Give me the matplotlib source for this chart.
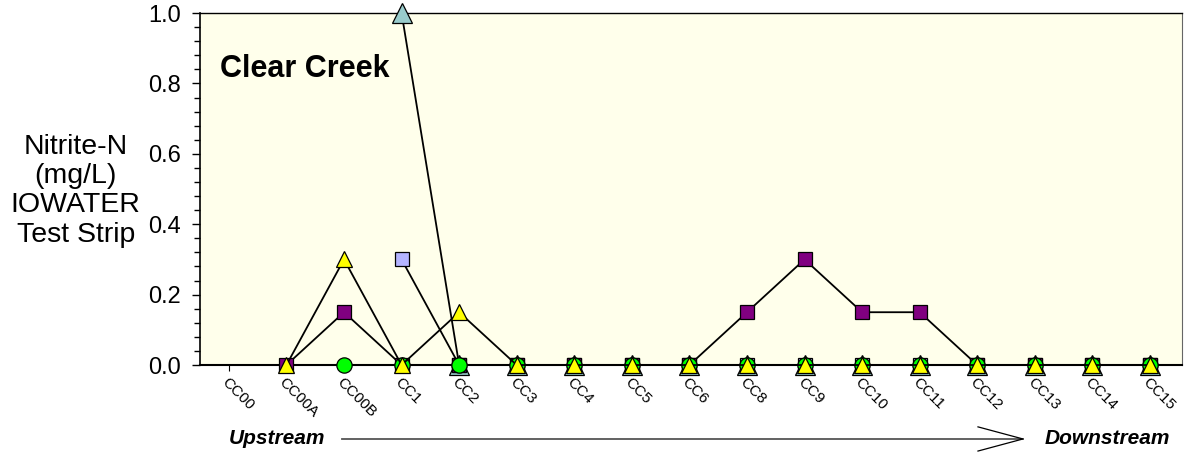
import numpy as np
import matplotlib
matplotlib.use("Agg")
import matplotlib.pyplot as plt

plt.rcParams['font.family'] = ['Liberation Sans', 'DejaVu Sans']

# sitios de muestreo, de aguas arriba hacia aguas abajo
sites = ['CC00', 'CC00A', 'CC00B', 'CC1', 'CC2', 'CC3', 'CC4', 'CC5', 'CC6',
         'CC8', 'CC9', 'CC10', 'CC11', 'CC12', 'CC13', 'CC14', 'CC15']
nan = np.nan

# una serie por evento de muestreo (Nitrite-N, mg/L)
teal_tri = [nan, nan, nan, 1.0, 0, 0, 0, 0, 0, 0, 0, 0, 0, 0, 0, 0, 0]
lavender_sq = [nan, nan, nan, 0.3, 0, 0, 0, 0, 0, 0, 0, 0, 0, 0, 0, 0, 0]
purple_sq = [nan, 0, 0.15, 0, 0, 0, 0, 0, 0, 0.15, 0.3, 0.15, 0.15, 0, 0, 0, 0]
green_circ = [nan, nan, 0, 0, 0, 0, 0, 0, 0, 0, 0, 0, 0, 0, 0, 0, 0]
yellow_tri = [nan, 0, 0.3, 0, 0.15, 0, 0, 0, 0, 0, 0, 0, 0, 0, 0, 0, 0]

x = np.arange(len(sites))

fig = plt.figure(figsize=(11.84, 4.65), dpi=100)
ax = fig.add_axes([0.169, 0.215, 0.829, 0.757])
ax.set_facecolor('#FFFFEB')

series = [
    (teal_tri, '^', '#99CCCC', 15),
    (lavender_sq, 's', '#B4B4FF', 10),
    (purple_sq, 's', '#800080', 10),
    (green_circ, 'o', '#00FF00', 11),
    (yellow_tri, '^', '#FFFF00', 12),
]
for vals, mk, col, ms in series:
    ax.plot(x, vals, color='black', lw=1.3, marker=mk, ms=ms,
            markerfacecolor=col, markeredgecolor='black', markeredgewidth=0.9,
            clip_on=False, zorder=3)

ax.set_xlim(-0.5, 16.55)
ax.set_ylim(0, 1.0)
ax.set_yticks(np.arange(0, 1.01, 0.2))
ax.set_yticks(np.arange(0, 1.001, 0.04), minor=True)
ax.set_yticklabels(['%.1f' % v for v in np.arange(0, 1.01, 0.2)], fontsize=17)
ax.tick_params(axis='y', which='major', length=6, width=1, direction='out', pad=8)
ax.tick_params(axis='y', which='minor', length=4, width=1, direction='out')
ax.set_xticks(x)
ax.set_xticklabels(sites, rotation=-45, ha='left', va='top', fontsize=11,
                   rotation_mode='anchor')
ax.tick_params(axis='x', length=4, direction='out', pad=3)

for s in ['left', 'bottom', 'top']:
    ax.spines[s].set_color('black')
ax.spines['left'].set_linewidth(1.2)
ax.spines['bottom'].set_linewidth(1.5)
ax.spines['top'].set_linewidth(1)
ax.spines['right'].set_color('#666666')

ax.text(0.02, 0.84, 'Clear Creek', transform=ax.transAxes, fontsize=22,
        fontweight='bold', va='center', ha='left')

fig.text(0.064, 0.59, 'Nitrite-N\n(mg/L)\nIOWATER\nTest Strip', ha='center',
         va='center', fontsize=20.5, linespacing=1.17)

# flecha aguas arriba -> aguas abajo
fig.text(0.193, 0.058, 'Upstream', fontsize=15, fontweight='bold',
         style='italic', ha='left', va='center')
fig.text(0.988, 0.058, 'Downstream', fontsize=15, fontweight='bold',
         style='italic', ha='right', va='center')
fig.add_artist(plt.Line2D([0.289, 0.864], [0.056, 0.056],
                          transform=fig.transFigure, color='#555555', lw=1.3))
fig.add_artist(plt.Line2D([0.826, 0.864, 0.826], [0.082, 0.056, 0.030],
                          transform=fig.transFigure, color='black', lw=0.9))

fig.savefig('out.png', dpi=100, facecolor='white')
